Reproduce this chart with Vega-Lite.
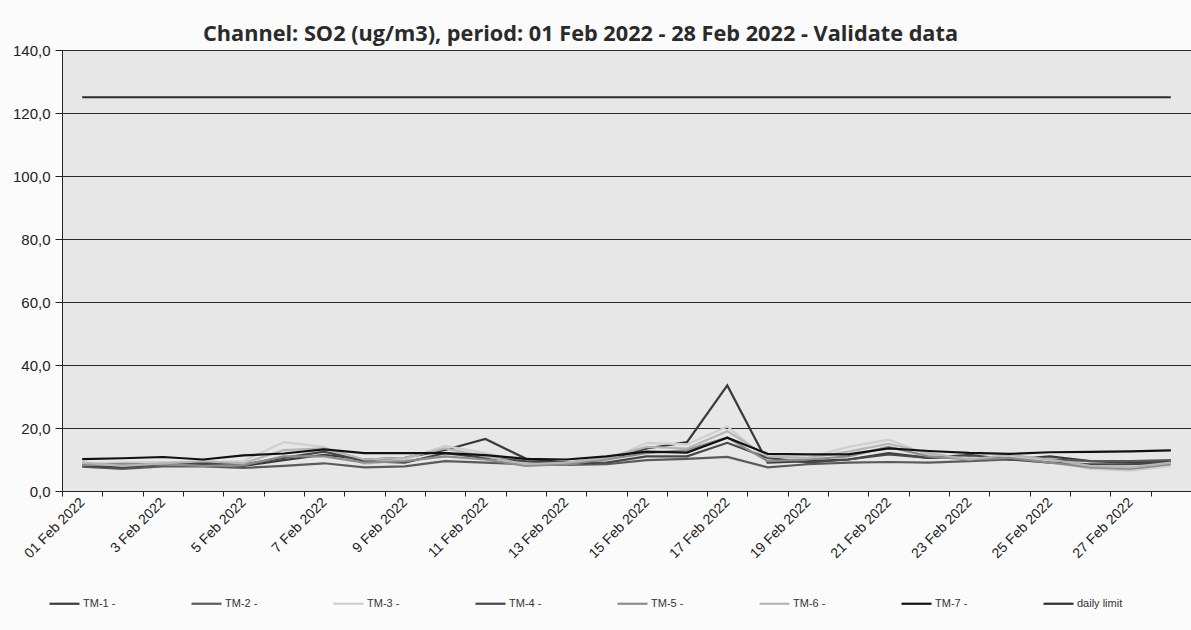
{
  "$schema": "https://vega.github.io/schema/vega-lite/v6.json",
  "width": 1129,
  "height": 441,
  "autosize": {"type": "none"},
  "padding": {"left": 62, "top": 50, "right": 0, "bottom": 139},
  "background": "#fbfbfb",
  "title": {
    "text": "Channel: SO2 (ug/m3), period: 01 Feb 2022 - 28 Feb 2022 - Validate data",
    "anchor": "start",
    "frame": "group",
    "dx": 141,
    "offset": 0,
    "dy": 3,
    "font": "Open Sans",
    "fontSize": 21.7,
    "fontWeight": "bold",
    "color": "#2a2a2a"
  },
  "config": {"view": {"fill": "#e7e7e7", "stroke": null}},
  "data": {
    "values": [
      {"date": "01 Feb 2022", "TM-1 -": 8.5, "TM-2 -": 7.7, "TM-3 -": 8.8, "TM-4 -": 8.0, "TM-5 -": 8.2, "TM-6 -": 9.0, "TM-7 -": 10.1, "daily limit": 125},
      {"date": "2 Feb 2022", "TM-1 -": 8.6, "TM-2 -": 7.0, "TM-3 -": 9.0, "TM-4 -": 7.5, "TM-5 -": 8.6, "TM-6 -": 8.0, "TM-7 -": 10.4, "daily limit": 125},
      {"date": "3 Feb 2022", "TM-1 -": 8.8, "TM-2 -": 7.8, "TM-3 -": 9.2, "TM-4 -": 8.5, "TM-5 -": 8.5, "TM-6 -": 8.8, "TM-7 -": 10.8, "daily limit": 125},
      {"date": "4 Feb 2022", "TM-1 -": 8.6, "TM-2 -": 7.8, "TM-3 -": 9.0, "TM-4 -": 9.0, "TM-5 -": 8.0, "TM-6 -": 9.5, "TM-7 -": 10.0, "daily limit": 125},
      {"date": "5 Feb 2022", "TM-1 -": 8.0, "TM-2 -": 7.3, "TM-3 -": 9.5, "TM-4 -": 8.5, "TM-5 -": 8.2, "TM-6 -": 8.8, "TM-7 -": 11.3, "daily limit": 125},
      {"date": "6 Feb 2022", "TM-1 -": 9.8, "TM-2 -": 8.0, "TM-3 -": 15.5, "TM-4 -": 10.5, "TM-5 -": 11.0, "TM-6 -": 13.0, "TM-7 -": 11.9, "daily limit": 125},
      {"date": "7 Feb 2022", "TM-1 -": 11.5, "TM-2 -": 8.8, "TM-3 -": 14.0, "TM-4 -": 12.5, "TM-5 -": 11.0, "TM-6 -": 13.5, "TM-7 -": 13.2, "daily limit": 125},
      {"date": "8 Feb 2022", "TM-1 -": 10.0, "TM-2 -": 7.5, "TM-3 -": 8.5, "TM-4 -": 9.5, "TM-5 -": 9.0, "TM-6 -": 10.0, "TM-7 -": 12.0, "daily limit": 125},
      {"date": "9 Feb 2022", "TM-1 -": 10.5, "TM-2 -": 7.8, "TM-3 -": 10.0, "TM-4 -": 9.0, "TM-5 -": 9.5, "TM-6 -": 10.5, "TM-7 -": 12.0, "daily limit": 125},
      {"date": "10 Feb 2022", "TM-1 -": 13.0, "TM-2 -": 9.5, "TM-3 -": 14.3, "TM-4 -": 12.0, "TM-5 -": 11.0, "TM-6 -": 13.5, "TM-7 -": 12.0, "daily limit": 125},
      {"date": "11 Feb 2022", "TM-1 -": 16.5, "TM-2 -": 9.0, "TM-3 -": 12.0, "TM-4 -": 10.5, "TM-5 -": 10.0, "TM-6 -": 11.0, "TM-7 -": 11.4, "daily limit": 125},
      {"date": "12 Feb 2022", "TM-1 -": 10.3, "TM-2 -": 8.5, "TM-3 -": 9.0, "TM-4 -": 9.5, "TM-5 -": 8.0, "TM-6 -": 8.5, "TM-7 -": 10.2, "daily limit": 125},
      {"date": "13 Feb 2022", "TM-1 -": 9.0, "TM-2 -": 8.3, "TM-3 -": 8.5, "TM-4 -": 8.8, "TM-5 -": 8.5, "TM-6 -": 9.0, "TM-7 -": 10.0, "daily limit": 125},
      {"date": "14 Feb 2022", "TM-1 -": 10.0, "TM-2 -": 8.5, "TM-3 -": 9.5, "TM-4 -": 9.0, "TM-5 -": 10.0, "TM-6 -": 10.5, "TM-7 -": 11.0, "daily limit": 125},
      {"date": "15 Feb 2022", "TM-1 -": 13.5, "TM-2 -": 9.8, "TM-3 -": 15.3, "TM-4 -": 11.0, "TM-5 -": 12.0, "TM-6 -": 14.0, "TM-7 -": 12.5, "daily limit": 125},
      {"date": "16 Feb 2022", "TM-1 -": 15.5, "TM-2 -": 10.2, "TM-3 -": 14.8, "TM-4 -": 11.0, "TM-5 -": 13.0, "TM-6 -": 13.5, "TM-7 -": 12.2, "daily limit": 125},
      {"date": "17 Feb 2022", "TM-1 -": 33.5, "TM-2 -": 10.8, "TM-3 -": 20.5, "TM-4 -": 15.3, "TM-5 -": 17.0, "TM-6 -": 19.0, "TM-7 -": 16.9, "daily limit": 125},
      {"date": "18 Feb 2022", "TM-1 -": 9.0, "TM-2 -": 7.5, "TM-3 -": 10.0, "TM-4 -": 10.5, "TM-5 -": 9.5, "TM-6 -": 11.0, "TM-7 -": 11.8, "daily limit": 125},
      {"date": "19 Feb 2022", "TM-1 -": 9.5, "TM-2 -": 8.5, "TM-3 -": 10.5, "TM-4 -": 9.0, "TM-5 -": 10.0, "TM-6 -": 10.5, "TM-7 -": 11.6, "daily limit": 125},
      {"date": "20 Feb 2022", "TM-1 -": 10.0, "TM-2 -": 9.0, "TM-3 -": 14.0, "TM-4 -": 10.0, "TM-5 -": 11.0, "TM-6 -": 12.5, "TM-7 -": 11.6, "daily limit": 125},
      {"date": "21 Feb 2022", "TM-1 -": 12.0, "TM-2 -": 9.2, "TM-3 -": 16.3, "TM-4 -": 11.6, "TM-5 -": 14.0, "TM-6 -": 15.0, "TM-7 -": 13.5, "daily limit": 125},
      {"date": "22 Feb 2022", "TM-1 -": 10.5, "TM-2 -": 9.0, "TM-3 -": 11.5, "TM-4 -": 10.5, "TM-5 -": 11.0, "TM-6 -": 12.0, "TM-7 -": 12.7, "daily limit": 125},
      {"date": "23 Feb 2022", "TM-1 -": 11.0, "TM-2 -": 9.5, "TM-3 -": 10.5, "TM-4 -": 11.5, "TM-5 -": 10.0, "TM-6 -": 10.0, "TM-7 -": 12.1, "daily limit": 125},
      {"date": "24 Feb 2022", "TM-1 -": 10.0, "TM-2 -": 10.0, "TM-3 -": 11.0, "TM-4 -": 10.0, "TM-5 -": 10.5, "TM-6 -": 11.5, "TM-7 -": 11.8, "daily limit": 125},
      {"date": "25 Feb 2022", "TM-1 -": 11.0, "TM-2 -": 10.0, "TM-3 -": 9.5, "TM-4 -": 9.0, "TM-5 -": 9.0, "TM-6 -": 10.0, "TM-7 -": 12.3, "daily limit": 125},
      {"date": "26 Feb 2022", "TM-1 -": 9.5, "TM-2 -": 9.5, "TM-3 -": 7.0, "TM-4 -": 8.5, "TM-5 -": 7.5, "TM-6 -": 8.0, "TM-7 -": 12.4, "daily limit": 125},
      {"date": "27 Feb 2022", "TM-1 -": 9.0, "TM-2 -": 9.5, "TM-3 -": 6.5, "TM-4 -": 8.5, "TM-5 -": 7.0, "TM-6 -": 7.5, "TM-7 -": 12.6, "daily limit": 125},
      {"date": "28 Feb 2022", "TM-1 -": 9.5, "TM-2 -": 9.8, "TM-3 -": 8.0, "TM-4 -": 9.0, "TM-5 -": 8.5, "TM-6 -": 9.0, "TM-7 -": 12.9, "daily limit": 125}
    ]
  },
  "transform": [
    {"fold": ["TM-1 -", "TM-2 -", "TM-3 -", "TM-4 -", "TM-5 -", "TM-6 -", "TM-7 -", "daily limit"], "as": ["series", "value"]}
  ],
  "mark": {"type": "line", "interpolate": "linear"},
  "encoding": {
    "x": {
      "field": "date",
      "type": "ordinal",
      "sort": null,
      "scale": {"type": "band", "paddingInner": 0, "paddingOuter": 0},
      "axis": {
        "title": null,
        "labelAngle": -45,
        "labelAlign": "right",
        "labelBaseline": "middle",
        "labelExpr": "parseInt(datum.value) % 2 == 1 ? datum.value : ''",
        "labelOverlap": false,
        "tickBand": "extent",
        "tickSize": 5,
        "tickColor": "#222222",
        "domainColor": "#222222",
        "labelFont": "Liberation Sans",
        "labelFontSize": 14,
        "labelColor": "#222222",
        "labelPadding": 4,
        "grid": false
      }
    },
    "y": {
      "field": "value",
      "type": "quantitative",
      "scale": {"domain": [0, 140], "nice": false},
      "axis": {
        "title": null,
        "values": [0, 20, 40, 60, 80, 100, 120, 140],
        "labelExpr": "replace(format(datum.value, '.1f'), '.', ',')",
        "grid": true,
        "gridColor": "#2a2a2a",
        "gridWidth": 1.2,
        "tickSize": 7,
        "tickColor": "#222222",
        "domainColor": "#222222",
        "labelFont": "Liberation Sans",
        "labelFontSize": 15,
        "labelColor": "#222222",
        "labelPadding": 5
      }
    },
    "color": {
      "field": "series",
      "type": "nominal",
      "scale": {
        "domain": ["TM-1 -", "TM-2 -", "TM-3 -", "TM-4 -", "TM-5 -", "TM-6 -", "TM-7 -", "daily limit"],
        "range": ["#3a3a3a", "#5a5a5a", "#cfcfcf", "#474747", "#8c8c8c", "#b5b5b5", "#111111", "#2e2e2e"]
      },
      "legend": {
        "title": null,
        "orient": "none",
        "legendX": -14,
        "legendY": 537,
        "direction": "horizontal",
        "columns": 8,
        "gridAlign": "all",
        "columnPadding": 58,
        "symbolType": "stroke",
        "symbolSize": 900,
        "symbolStrokeWidth": 3,
        "labelFont": "Liberation Sans",
        "labelFontSize": 11,
        "labelColor": "#333333",
        "labelOffset": 2
      }
    },
    "strokeWidth": {
      "field": "series",
      "type": "nominal",
      "scale": {
        "domain": ["TM-1 -", "TM-2 -", "TM-3 -", "TM-4 -", "TM-5 -", "TM-6 -", "TM-7 -", "daily limit"],
        "range": [2.2, 2.2, 2.2, 2.2, 2.2, 2.2, 3, 2.8]
      },
      "legend": null
    }
  }
}
